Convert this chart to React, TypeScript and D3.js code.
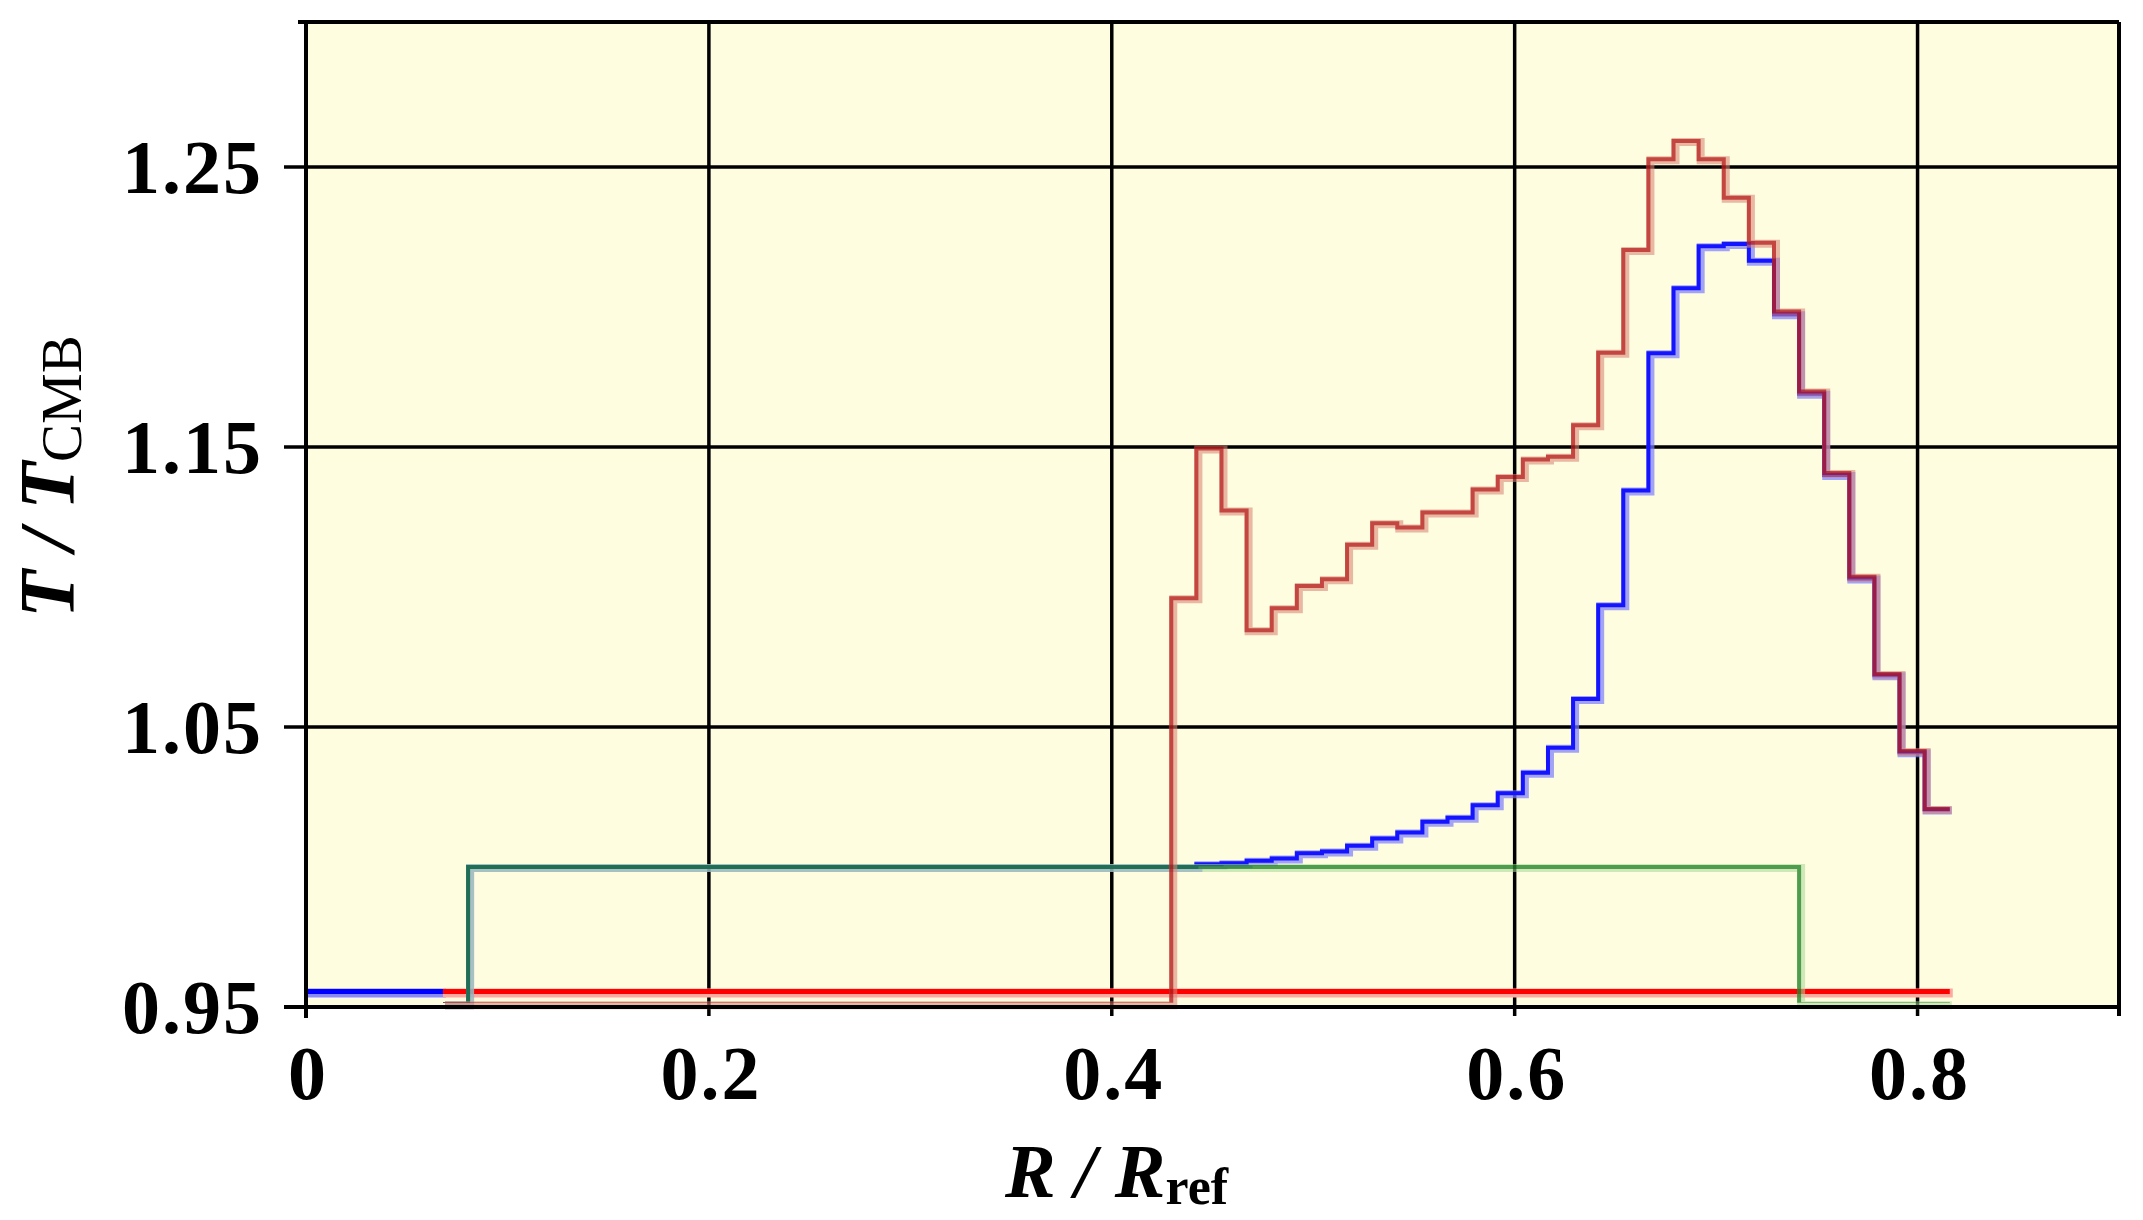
import React, { useRef, useEffect } from "react";
import * as d3 from "d3";

const WIDTH = 2143;
const HEIGHT = 1220;

// histogram range (R / Rref) and bin values (T / TCMB), 60 bins each
const R_MIN = 0.068;
const R_MAX = 0.816;
const BASE_LEVEL = 0.9555;

const greenValues = [
  0.951, 1, 1, 1, 1, 1, 1, 1, 1, 1,
  1, 1, 1, 1, 1, 1, 1, 1, 1, 1,
  1, 1, 1, 1, 1, 1, 1, 1, 1, 1,
  1, 1, 1, 1, 1, 1, 1, 1, 1, 1,
  1, 1, 1, 1, 1, 1, 1, 1, 1, 1,
  1, 1, 1, 1, 0.951, 0.951, 0.951, 0.951, 0.951, 0.951,
];

const blueValues = [
  0.951, 1, 1, 1, 1, 1, 1, 1, 1, 1,
  1, 1, 1, 1, 1, 1, 1, 1, 1, 1,
  1, 1, 1, 1, 1, 1, 1, 1, 1, 1,
  1.001, 1.0013, 1.0022, 1.003, 1.0049, 1.0055, 1.0076, 1.0102, 1.0123, 1.0162,
  1.0176, 1.0221, 1.0263, 1.0337, 1.0426, 1.06, 1.0935, 1.1345, 1.1835, 1.2067,
  1.2217, 1.2225, 1.2165, 1.1974, 1.169, 1.14, 1.103, 1.0685, 1.041, 1.0205,
];

const redValues = [
  0.951, 0.951, 0.951, 0.951, 0.951, 0.951, 0.951, 0.951, 0.951, 0.951,
  0.951, 0.951, 0.951, 0.951, 0.951, 0.951, 0.951, 0.951, 0.951, 0.951,
  0.951, 0.951, 0.951, 0.951, 0.951, 0.951, 0.951, 0.951, 0.951, 1.096,
  1.1495, 1.1273, 1.0846, 1.0924, 1.1004, 1.1028, 1.1151, 1.1228, 1.1213, 1.1266,
  1.1266, 1.1348, 1.1393, 1.1455, 1.1465, 1.1578, 1.1837, 1.2204, 1.2528, 1.2593,
  1.2528, 1.239, 1.223, 1.1984, 1.1698, 1.1407, 1.1037, 1.0689, 1.0414, 1.0207,
];

const xTicks = [0, 0.2, 0.4, 0.6, 0.8];
const xTickLabels = ["0", "0.2", "0.4", "0.6", "0.8"];
const yTicks = [0.95, 1.05, 1.15, 1.25];
const yTickLabels = ["0.95", "1.05", "1.15", "1.25"];

const series = [
  { name: "blue", values: blueValues, core: "#1414ff", halo: "#7c7cff", opacity: 1 },
  { name: "green", values: greenValues, core: "#23862a", halo: "#a9d79a", opacity: 0.8 },
  { name: "red", values: redValues, core: "#b81f1f", halo: "#d98576", opacity: 0.82 },
];

const FONT = "'Liberation Serif', 'Times New Roman', serif";

const App: React.FC = () => {
  const svgRef = useRef<SVGSVGElement>(null);

  useEffect(() => {
    document.body.style.margin = "0";
    const svg = d3.select(svgRef.current);
    svg.selectAll("*").remove();

    const yTop = 1.3018;
    const x = d3.scaleLinear().domain([0, 0.9]).range([306, 2119]);
    const y = d3.scaleLinear().domain([0.95, yTop]).range([1007, 22]);

    // core lines stop just above the floor so only the pale halo shows there
    svg
      .append("defs")
      .append("clipPath")
      .attr("id", "core-clip")
      .append("rect")
      .attr("x", 0)
      .attr("y", 0)
      .attr("width", WIDTH)
      .attr("height", y(0.9515));

    // plot background
    svg
      .append("rect")
      .attr("x", x(0))
      .attr("y", y(yTop))
      .attr("width", x(0.9) - x(0))
      .attr("height", y(0.95) - y(yTop))
      .attr("fill", "#fffde0");

    // grid lines
    const grid = svg.append("g").attr("stroke", "#000").attr("stroke-width", 3.5);
    grid
      .selectAll("line.v")
      .data(xTicks.slice(1))
      .enter()
      .append("line")
      .attr("x1", d => x(d))
      .attr("x2", d => x(d))
      .attr("y1", y(yTop))
      .attr("y2", y(0.95) + 9);
    grid
      .selectAll("line.h")
      .data(yTicks.slice(1))
      .enter()
      .append("line")
      .attr("x1", x(0) - 22)
      .attr("x2", x(0.9))
      .attr("y1", d => y(d))
      .attr("y2", d => y(d));

    // thick base line: blue before the histogram range, red across it
    const baseSegments = [
      { from: 0, to: R_MIN, core: "#0000ff", halo: "#8a8aff" },
      { from: R_MIN, to: R_MAX, core: "#ff0000", halo: "#ffaaa0" },
    ];
    baseSegments.forEach(s => {
      svg
        .append("line")
        .attr("x1", x(s.from))
        .attr("x2", x(s.to) + 3)
        .attr("y1", y(BASE_LEVEL) + 1.5)
        .attr("y2", y(BASE_LEVEL) + 1.5)
        .attr("stroke", s.halo)
        .attr("stroke-width", 9);
      svg
        .append("line")
        .attr("x1", x(s.from))
        .attr("x2", x(s.to))
        .attr("y1", y(BASE_LEVEL))
        .attr("y2", y(BASE_LEVEL))
        .attr("stroke", s.core)
        .attr("stroke-width", 5);
    });

    // step histograms
    const binWidth = (R_MAX - R_MIN) / 60;
    const line = d3
      .line<[number, number]>()
      .x(d => x(d[0]))
      .y(d => y(d[1]))
      .curve(d3.curveStepAfter);

    series.forEach(s => {
      const pts: [number, number][] = s.values.map((v, i) => [R_MIN + i * binWidth, v]);
      pts.push([R_MAX, s.values[s.values.length - 1]]);
      const g = svg.append("g").attr("opacity", s.opacity);
      g.append("path")
        .attr("d", line(pts))
        .attr("fill", "none")
        .attr("stroke", s.halo)
        .attr("stroke-width", 8)
        .attr("stroke-opacity", 0.7)
        .attr("transform", "translate(2,1)");
      g.append("path")
        .attr("d", line(pts))
        .attr("fill", "none")
        .attr("stroke", s.core)
        .attr("stroke-width", 4)
        .attr("clip-path", "url(#core-clip)");
    });

    // frame and axes
    const frame = svg.append("g").attr("stroke", "#000").attr("stroke-width", 4);
    frame.append("line").attr("x1", x(0) - 8).attr("x2", x(0.9)).attr("y1", y(yTop)).attr("y2", y(yTop));
    frame.append("line").attr("x1", x(0.9)).attr("x2", x(0.9)).attr("y1", y(yTop)).attr("y2", y(0.95) + 9);
    frame.append("line").attr("x1", x(0)).attr("x2", x(0)).attr("y1", y(yTop)).attr("y2", y(0.95) + 11);
    frame.append("line").attr("x1", x(0) - 22).attr("x2", x(0.9)).attr("y1", y(0.95)).attr("y2", y(0.95));

    // tick labels
    svg
      .append("g")
      .selectAll("text")
      .data(yTicks)
      .enter()
      .append("text")
      .attr("x", 263)
      .attr("y", d => y(d) + 26)
      .attr("text-anchor", "end")
      .attr("font-family", FONT)
      .attr("font-weight", "bold")
      .attr("font-size", 76)
      .attr("letter-spacing", 2)
      .text((d, i) => yTickLabels[i]);

    svg
      .append("g")
      .selectAll("text")
      .data(xTicks)
      .enter()
      .append("text")
      .attr("x", d => x(d) + 2)
      .attr("y", 1099)
      .attr("text-anchor", "middle")
      .attr("font-family", FONT)
      .attr("font-weight", "bold")
      .attr("font-size", 76)
      .attr("letter-spacing", 2)
      .text((d, i) => xTickLabels[i]);

    // axis titles
    const xTitle = svg
      .append("text")
      .attr("x", 1005)
      .attr("y", 1197)
      .attr("font-family", FONT)
      .attr("font-weight", "bold");
    xTitle.append("tspan").attr("font-style", "italic").attr("font-size", 76).text("R / R");
    xTitle.append("tspan").attr("font-size", 52).attr("dy", 7).text("ref");

    const yTitle = svg
      .append("text")
      .attr("transform", "translate(73, 618) rotate(-90)")
      .attr("font-family", FONT);
    yTitle
      .append("tspan")
      .attr("font-style", "italic")
      .attr("font-weight", "bold")
      .attr("font-size", 78)
      .text("T / T");
    yTitle.append("tspan").attr("font-size", 57).attr("dy", 8).text("CMB");
  }, []);

  return <svg ref={svgRef} width={WIDTH} height={HEIGHT} style={{ display: "block" }} />;
};

export default App;
